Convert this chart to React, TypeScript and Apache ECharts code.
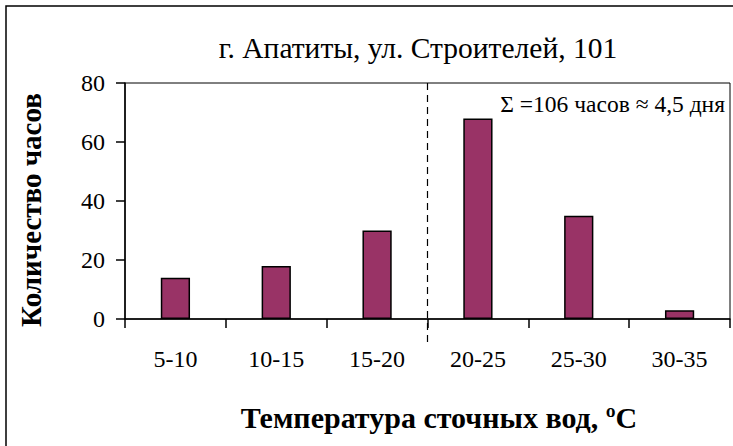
import React, { useEffect, useRef } from "react";
import * as echarts from "echarts";

const categories = ["5-10", "10-15", "15-20", "20-25", "25-30", "30-35"];
const hours = [14, 18, 30, 68, 35, 3];
const yTicks = [0, 20, 40, 60, 80];
const titleText = "г. Апатиты, ул. Строителей, 101";
const xTitle = "Температура сточных вод, ºС";
const yTitle = "Количество часов";
const noteText = "Σ =106 часов ≈ 4,5 дня";
const splitBoundary = 3; // dashed line between 15-20 and 20-25

const FONT = "Liberation Serif";

export default function App() {
  const ref = useRef<HTMLDivElement>(null);
  useEffect(() => {
    if (!ref.current) return;
    const chart = echarts.init(ref.current, null, { renderer: "svg" });
    chart.setOption({
      animation: false,
      backgroundColor: "#ffffff",
      textStyle: { fontFamily: FONT },
      title: {
        text: titleText,
        left: 413,
        top: 28,
        textAlign: "center",
        textStyle: { fontFamily: FONT, fontSize: 29.5, fontWeight: "normal", color: "#000" },
      },
      grid: {
        left: 125,
        top: 83,
        right: 3,
        bottom: 127,
        show: true,
        borderColor: "#000",
        borderWidth: 1,
        backgroundColor: "transparent",
      },
      xAxis: [
        {
          type: "category",
          data: categories,
          name: xTitle,
          nameLocation: "middle",
          nameGap: 83,
          nameTextStyle: {
            fontFamily: FONT,
            fontSize: 30,
            fontWeight: "bold",
            color: "#000",
            padding: [0, 0, 0, 23],
          },
          axisLine: { lineStyle: { color: "#000", width: 1.5 } },
          axisTick: { show: true, alignWithLabel: false, length: 9, lineStyle: { color: "#000", width: 1.5 } },
          axisLabel: { fontFamily: FONT, fontSize: 24, color: "#000", margin: 28 },
        },
        { type: "value", min: 0, max: categories.length, show: false },
      ],
      yAxis: {
        type: "value",
        min: 0,
        max: 80,
        interval: 20,
        name: yTitle,
        nameLocation: "middle",
        nameGap: 80,
        nameRotate: 90,
        nameTextStyle: {
          fontFamily: FONT,
          fontSize: 29,
          fontWeight: "bold",
          color: "#000",
          padding: [0, 18, 0, 0],
        },
        axisLine: { show: true, lineStyle: { color: "#000", width: 1.5 } },
        axisTick: { show: true, length: 9, lineStyle: { color: "#000", width: 1.5 } },
        axisLabel: {
          fontFamily: FONT,
          fontSize: 24,
          color: "#000",
          margin: 20,
          formatter: (v: number) => (yTicks.includes(v) ? String(v) : ""),
        },
        splitLine: { show: false },
      },
      series: [
        {
          type: "bar",
          data: hours,
          barWidth: "29%",
          itemStyle: { color: "#993366", borderColor: "#000", borderWidth: 1.5 },
        },
      ],
    });

    const x = chart.convertToPixel({ xAxisIndex: 1 }, splitBoundary) as number;
    const yTop = chart.convertToPixel({ yAxisIndex: 0 }, 80) as number;
    const yBottom = chart.convertToPixel({ yAxisIndex: 0 }, 0) as number;
    chart.setOption({
      graphic: [
        {
          type: "rect",
          shape: { x: 6, y: 6, width: 760, height: 460 },
          style: { fill: "none", stroke: "#000", lineWidth: 1.5 },
          silent: true,
        },
        {
          type: "line",
          shape: { x1: x, y1: yTop, x2: x, y2: yBottom + 23 },
          style: { stroke: "#000", lineWidth: 1.2, lineDash: [7, 5] },
          silent: true,
        },
        {
          type: "text",
          x: 725,
          y: 104,
          style: {
            text: noteText,
            fontFamily: FONT,
            fontSize: 23.5,
            fill: "#000",
            align: "right",
            verticalAlign: "middle",
          },
        },
      ],
    });
    return () => chart.dispose();
  }, []);
  return (
    <div
      ref={ref}
      style={{ position: "fixed", left: 0, top: 0, width: 733, height: 446 }}
    />
  );
}
